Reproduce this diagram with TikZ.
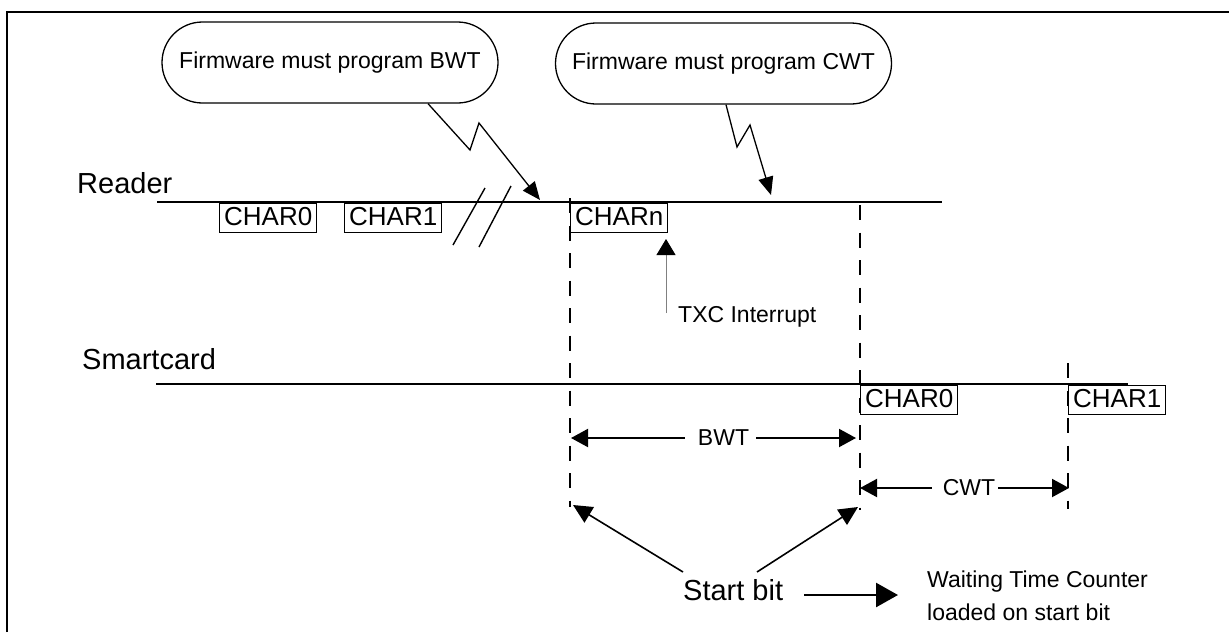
\documentclass[tikz,border=0pt]{standalone}
\usepackage{fontspec}
\setmainfont{Liberation Sans}
\usetikzlibrary{arrows.meta,shapes.misc}
\begin{document}
\begin{tikzpicture}[x=1pt,y=-1pt,
  fsmall/.style={font=\fontsize{23}{27}\selectfont},
  flarge/.style={font=\fontsize{29}{34}\selectfont},
  bubble/.style={draw, rounded rectangle, line width=1.3pt, minimum width=336pt,
    minimum height=81pt, inner sep=0pt, fsmall},
  charbox/.style={draw, line width=1.4pt, inner xsep=0pt, inner ysep=3.5pt,
    text height=18.6pt, text depth=3.4pt, minimum width=97pt,
    font=\fontsize{26}{30}\selectfont},
  zig/.style={line width=1.3pt, -{Triangle[length=18pt,width=15pt]}},
  guide/.style={line width=1.8pt, dash pattern=on 15pt off 12.5pt},
  dim/.style={line width=2pt, -{Triangle[length=17pt,width=18pt]}},
  sbarr/.style={line width=1.6pt, -{Triangle[length=19pt,width=18pt]}},
  wire/.style={line width=2pt},
]
\useasboundingbox (0,0) rectangle (1229,632);
% frame
\draw[line width=2.3pt] (7,632) -- (7,12) -- (1229,12);

% bubbles
\node[bubble] (b1) at (330,62.5) {Firmware must program BWT};
\node[bubble] (b2) at (723.5,63.5) {Firmware must program CWT};

% labels
\node[flarge, anchor=base west, inner sep=0pt] (rd) at (77,193) {Reader};
\node[flarge, anchor=base west, inner sep=0pt] (sc) at (82,369) {Smartcard};

% signal lines
\coordinate (rL) at (157,202);
\coordinate (rR) at (942,202);
\coordinate (sL) at (156,384);
\coordinate (sR) at (1128,384);
\draw[wire] (rL) -- (rR);
\draw[wire] (sL) -- (sR);

% break marks
\coordinate (k1a) at (485,188); \coordinate (k1b) at (453,245);
\coordinate (k2a) at (511,186); \coordinate (k2b) at (479,247);
\draw[line width=1.4pt] (k1a) -- (k1b);
\draw[line width=1.4pt] (k2a) -- (k2b);

% guides (dashed)
\coordinate (d1t) at (570,198); \coordinate (d1b) at (570,507);
\coordinate (d2t) at (860,205); \coordinate (d2b) at (860,510);
\coordinate (d3t) at (1068,363); \coordinate (d3b) at (1068,509);
\draw[guide] (d1t) -- (d1b);
\draw[guide] (d2t) -- (d2b);
\draw[guide] (d3t) -- (d3b);

% character boxes
\node[charbox, anchor=north west] (rc0) at (219,202.5) {CHAR0};
\node[charbox, anchor=north west] (rc1) at (344,202.5) {CHAR1};
\node[charbox, anchor=north west] (rcn) at (570,202.5) {CHARn};
\node[charbox, anchor=north west] (sc0) at (860,384.5) {CHAR0};
\node[charbox, anchor=north west] (sc1) at (1068,384.5) {CHAR1};

% lightning arrows
\coordinate (t1) at (540,200);
\coordinate (t2) at (771,195);
\draw[zig] ([xshift=98pt]b1.south) -- (470,150) -- (479,123) -- (t1);
\draw[zig] ([xshift=2.5pt]b2.south) -- (737,147) -- (750,125) -- (t2);

% TXC interrupt
\coordinate (txf) at (666,313);
\coordinate (txt) at (666,239);
\draw[gray, line width=0.9pt, -{Triangle[length=16pt,width=19pt,color=black]}] (txf) -- (txt);
\node[fsmall, anchor=base west, inner sep=0pt] (txc) at (678,322) {TXC Interrupt};

% BWT
\node[fsmall, inner sep=0pt] (bwt) at (723.5,438) {BWT};
\coordinate (bwtL) at (571,438);
\coordinate (bwtR) at (856,438);
\draw[dim] ([xshift=-13pt]bwt.west) -- (bwtL);
\draw[dim] ([xshift=7pt]bwt.east) -- (bwtR);

% CWT
\node[fsmall, inner sep=0pt] (cwt) at (969,488) {CWT};
\coordinate (cwtL) at (860,488);
\coordinate (cwtR) at (1069,488);
\draw[dim] ([xshift=-11pt]cwt.west) -- (cwtL);
\draw[dim] ([xshift=3pt]cwt.east) -- (cwtR);

% start bit
\node[flarge, anchor=base west, inner sep=0pt] (sb) at (683,600) {Start bit};
\coordinate (sbL) at (683,572);
\coordinate (sbR) at (757,572);
\coordinate (sbLt) at (573,505);
\coordinate (sbRt) at (858,507);
\draw[sbarr] (sbL) -- (sbLt);
\draw[sbarr] (sbR) -- (sbRt);

\node[fsmall, anchor=base west, inner sep=0pt] (wt1) at (927,587) {Waiting Time Counter};
\node[fsmall, anchor=base west, inner sep=0pt] (wt2) at (927,620) {loaded on start bit};
\coordinate (raS) at (804,595);
\coordinate (raE) at (898,595);
\draw[line width=2.6pt, -{Triangle[length=22pt,width=24pt]}] (raS) -- (raE);
\end{tikzpicture}
\end{document}
